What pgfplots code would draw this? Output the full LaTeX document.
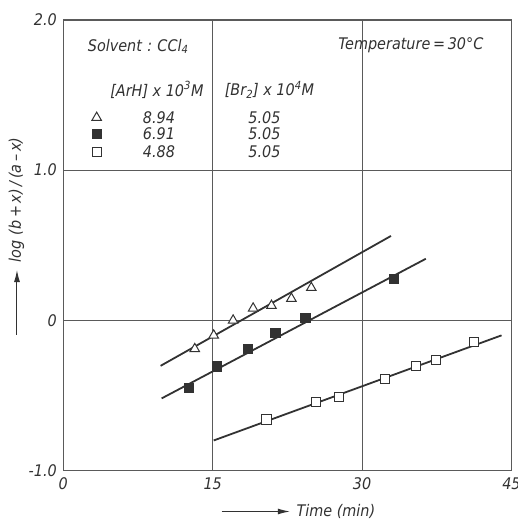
\documentclass[border=0pt]{standalone}
\usepackage{pgfplots}
\pgfplotsset{compat=1.18}
\usetikzlibrary{arrows.meta}
\usepackage{fontspec}
\setmainfont{DejaVu Sans Condensed}
\definecolor{ink}{RGB}{50,50,50}
\definecolor{gridc}{RGB}{90,90,90}
\begin{document}
\begin{tikzpicture}[x=1pt,y=1pt]
\begin{axis}[
  at={(0,0)}, anchor=south west,
  scale only axis, width=448.2pt, height=450.5pt,
  xmin=0, xmax=45, ymin=-1, ymax=2,
  xtick={0,15,30,45}, ytick={-1,0,1,2},
  yticklabels={-1.0,0,1.0,2.0},
  major tick length=0pt,
  grid=major,
  grid style={gridc, line width=1pt},
  axis line style={gridc, line width=1.3pt},
  tick label style={font=\fontsize{16}{19}\selectfont\itshape, text=ink},
  /pgf/number format/assume math mode=true,
  xticklabel style={yshift=-4pt},
  yticklabel style={xshift=-3pt},
  clip=false,
]
% fitted lines
\addplot[ink, line width=1.8pt] coordinates {(9.77,-0.303) (32.9,0.562)};
\addplot[ink, line width=1.8pt] coordinates {(9.87,-0.52) (36.4,0.41)};
\addplot[ink, line width=1.8pt] coordinates {(15.1,-0.80) (44.0,-0.10)};
% data
\addplot[only marks, mark=triangle*, mark size=5.5pt, mark options={fill=white, draw=ink, line width=1pt}] coordinates {
(13.2,-0.19) (15.1,-0.10) (17.05,0.0) (19.06,0.08) (20.9,0.098) (22.9,0.145) (24.9,0.217)};
\addplot[only marks, mark=square*, mark size=4.6pt, mark options={fill=ink, draw=ink, line width=0.8pt}] coordinates {
(12.6,-0.452) (15.45,-0.307) (18.5,-0.19) (21.3,-0.084) (24.3,0.016) (33.2,0.277)};
\addplot[only marks, mark=square*, mark size=4.6pt, mark options={fill=white, draw=ink, line width=1pt}] coordinates {
(20.4,-0.66) (25.4,-0.546) (27.7,-0.508) (32.3,-0.392) (35.4,-0.303) (37.45,-0.263) (41.2,-0.145)};
% legend markers
\addplot[only marks, mark=triangle*, mark size=5.5pt, mark options={fill=white, draw=ink, line width=1pt}] coordinates {(3.35,1.35)};
\addplot[only marks, mark=square*, mark size=4.6pt, mark options={fill=ink, draw=ink, line width=0.8pt}] coordinates {(3.35,1.24)};
\addplot[only marks, mark=square*, mark size=4.6pt, mark options={fill=white, draw=ink, line width=1pt}] coordinates {(3.35,1.122)};
% texts
\begin{scope}[every node/.style={font=\fontsize{16}{19}\selectfont\itshape, text=ink, inner sep=0pt}]
\node[anchor=west] at (axis cs:2.45,1.825) {Solvent\,\,:\,\,CCl\textsubscript{4}};
\node[anchor=west] at (axis cs:27.6,1.83) {Temperature\,=\,30°C};
\node at (axis cs:9.4,1.535) {[ArH] x 10\textsuperscript{3}M};
\node at (axis cs:20.7,1.535) {[Br\textsubscript{2}] x 10\textsuperscript{4}M};
\node at (axis cs:9.6,1.35) {8.94};
\node at (axis cs:9.6,1.24) {6.91};
\node at (axis cs:9.6,1.122) {4.88};
\node at (axis cs:20.2,1.35) {5.05};
\node at (axis cs:20.2,1.24) {5.05};
\node at (axis cs:20.2,1.122) {5.05};
\node[rotate=90] at (axis cs:-4.7,0.80) {log\,\,(b\,+\,x)\,/\,(a\,--\,x)};
\node[anchor=west] at (axis cs:23.4,-1.273) {Time (min)};
\end{scope}
\draw[ink, line width=1pt, -{Latex[length=12pt,width=6pt]}] (axis cs:-4.65,-0.096) -- (axis cs:-4.65,0.335);
\draw[ink, line width=1pt, -{Latex[length=12pt,width=6pt]}] (axis cs:15.9,-1.273) -- (axis cs:22.74,-1.273);
\end{axis}
\pgfresetboundingbox
\path (-63.3pt,-51.5pt) rectangle (454.7pt,470.5pt);
\end{tikzpicture}
\end{document}
